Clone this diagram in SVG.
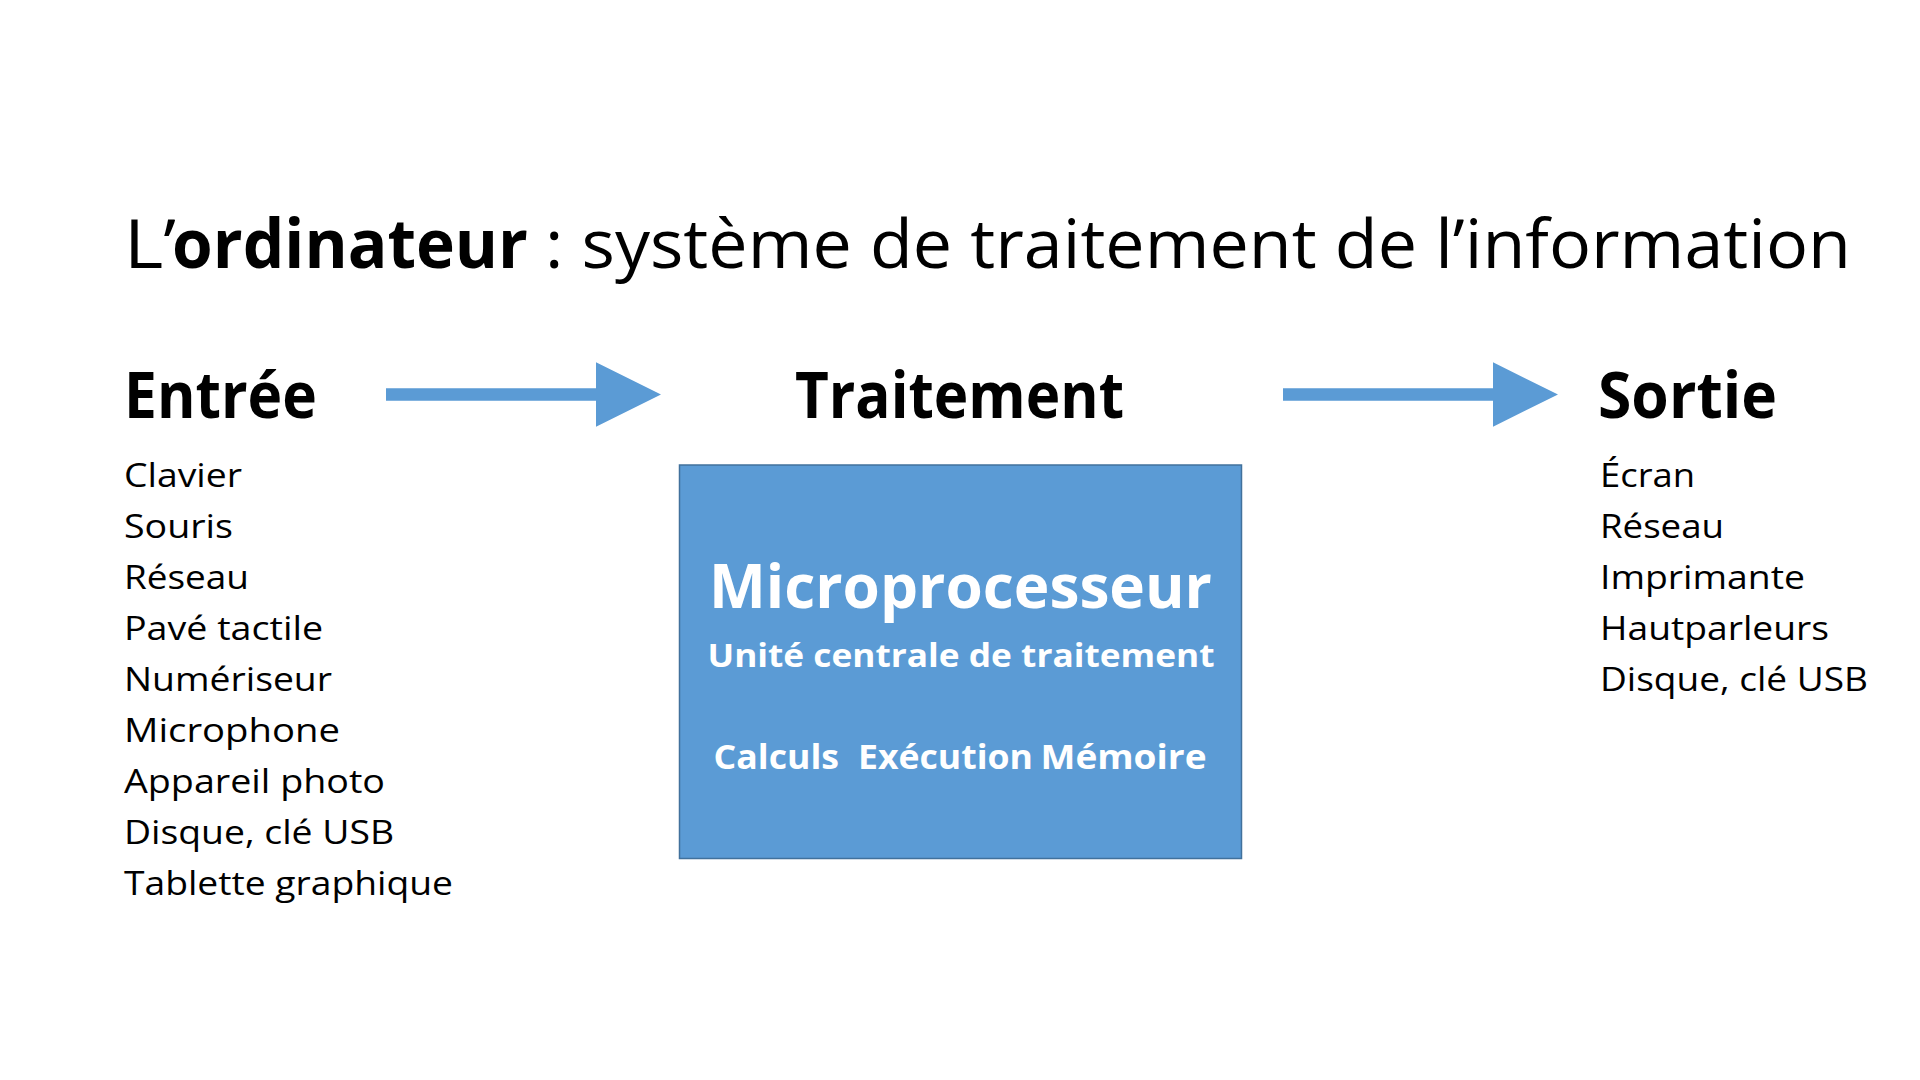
<svg xmlns="http://www.w3.org/2000/svg" width="1920" height="1080" viewBox="0 0 1920 1080">
  <style>
    text { font-family: "Open Sans", "Noto Sans", "Liberation Sans", sans-serif; fill: #000; }
    .title { font-size: 68px; }
    .head { font-size: 64px; font-weight: bold; }
    .item { font-size: 33.6px; }
    .w { fill: #fff; font-weight: bold; }
    .arrow { fill: #5B9BD5; }
  </style>
  <rect width="1920" height="1080" fill="#fff"/>

  <g id="title">
    <text class="title" x="124" y="268" textLength="52" lengthAdjust="spacingAndGlyphs">L’</text>
    <text class="title" x="172" y="268" font-weight="bold" textLength="356" lengthAdjust="spacingAndGlyphs">ordinateur</text>
    <text class="title" x="545" y="268" textLength="1306" lengthAdjust="spacingAndGlyphs">: système de traitement de l’information</text>
  </g>

  <g id="entree">
    <text class="head" x="124" y="418" textLength="193" lengthAdjust="spacingAndGlyphs">Entrée</text>
    <text class="item" x="124" y="486.5" textLength="118" lengthAdjust="spacingAndGlyphs">Clavier</text>
    <text class="item" x="124" y="537.6" textLength="109" lengthAdjust="spacingAndGlyphs">Souris</text>
    <text class="item" x="124" y="588.7" textLength="125" lengthAdjust="spacingAndGlyphs">Réseau</text>
    <text class="item" x="124" y="639.8" textLength="199" lengthAdjust="spacingAndGlyphs">Pavé tactile</text>
    <text class="item" x="124" y="690.9" textLength="208" lengthAdjust="spacingAndGlyphs">Numériseur</text>
    <text class="item" x="124" y="742" textLength="216" lengthAdjust="spacingAndGlyphs">Microphone</text>
    <text class="item" x="124" y="793.1" textLength="261" lengthAdjust="spacingAndGlyphs">Appareil photo</text>
    <text class="item" x="124" y="844.2" textLength="270" lengthAdjust="spacingAndGlyphs">Disque, clé USB</text>
    <text class="item" x="124" y="895.3" textLength="329" lengthAdjust="spacingAndGlyphs">Tablette graphique</text>
  </g>

  <g id="traitement">
    <text class="head" x="795" y="418" textLength="329" lengthAdjust="spacingAndGlyphs">Traitement</text>
  </g>

  <g id="microprocesseur">
    <rect x="679.5" y="465" width="562" height="393.5" fill="#5B9BD5" stroke="#41719C" stroke-width="1.5"/>
    <text class="w" x="709" y="608" font-size="60" textLength="503" lengthAdjust="spacingAndGlyphs">Microprocesseur</text>
    <text class="w" x="707.5" y="666.7" font-size="32.6" textLength="507" lengthAdjust="spacingAndGlyphs">Unité centrale de traitement</text>
    <text class="w" x="713.5" y="769.3" font-size="33.6" textLength="125.5" lengthAdjust="spacingAndGlyphs">Calculs</text>
    <text class="w" x="858" y="769.3" font-size="33.6" textLength="175" lengthAdjust="spacingAndGlyphs">Exécution</text>
    <text class="w" x="1040.5" y="769.3" font-size="33.6" textLength="166" lengthAdjust="spacingAndGlyphs">Mémoire</text>
  </g>

  <g id="sortie">
    <text class="head" x="1598" y="418" textLength="179" lengthAdjust="spacingAndGlyphs">Sortie</text>
    <text class="item" x="1600" y="486.5" textLength="95" lengthAdjust="spacingAndGlyphs">Écran</text>
    <text class="item" x="1600" y="537.6" textLength="124" lengthAdjust="spacingAndGlyphs">Réseau</text>
    <text class="item" x="1600" y="588.7" textLength="205" lengthAdjust="spacingAndGlyphs">Imprimante</text>
    <text class="item" x="1600" y="639.8" textLength="229" lengthAdjust="spacingAndGlyphs">Hautparleurs</text>
    <text class="item" x="1600" y="690.9" textLength="268" lengthAdjust="spacingAndGlyphs">Disque, clé USB</text>
  </g>

  <g id="connectors">
    <polygon class="arrow" points="386,388.3 596,388.3 596,362.3 661,394.5 596,426.7 596,400.7 386,400.7"/>
    <polygon class="arrow" points="1283,388.3 1493,388.3 1493,362.3 1558,394.5 1493,426.7 1493,400.7 1283,400.7"/>
  </g>
</svg>
